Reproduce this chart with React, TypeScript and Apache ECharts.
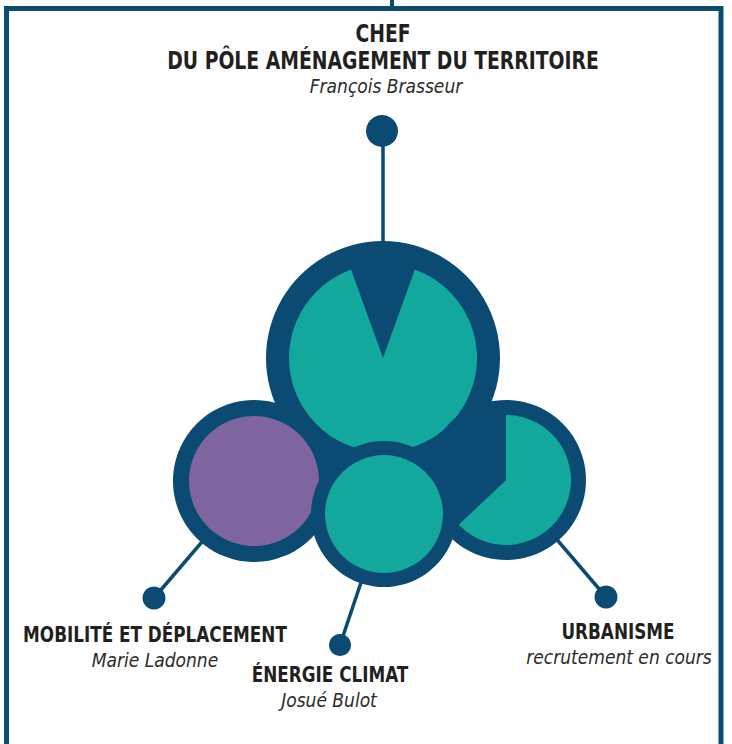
import React, { useEffect, useRef } from "react";
import * as echarts from "echarts";

// ---- data ----
const roleTitles = ["CHEF", "DU PÔLE AMÉNAGEMENT DU TERRITOIRE", "MOBILITÉ ET DÉPLACEMENT", "ÉNERGIE CLIMAT", "URBANISME"];
const personNames = ["François Brasseur", "Marie Ladonne", "Josué Bulot", "recrutement en cours"];
// pie slices: [dark wedge, coloured part]
const chefSlices = [11, 89];
const mobiliteSlices = [0, 100];
const energieSlices = [0, 100];
const urbanismeSlices = [37, 63];

const DARK = "#0a4a73";
const TEAL = "#13a89e";
const PURPLE = "#7f65a0";
const TEXT = "#231f20";
const FONT_B = "'DejaVu Sans Condensed', 'DejaVu Sans', sans-serif";

type Circle = { cx: number; cy: number; outer: number; inner: number; slices: number[]; fill: string; centred: boolean };

const circles: Circle[] = [
  { cx: 383, cy: 358, outer: 117, inner: 94, slices: chefSlices, fill: TEAL, centred: true },
  { cx: 254, cy: 481, outer: 81, inner: 65, slices: mobiliteSlices, fill: PURPLE, centred: false },
  { cx: 506, cy: 480, outer: 80, inner: 65, slices: urbanismeSlices, fill: TEAL, centred: false },
  { cx: 384, cy: 514, outer: 73, inner: 59, slices: energieSlices, fill: TEAL, centred: false },
];

function buildSeries() {
  const series: any[] = [];
  circles.forEach((c, i) => {
    series.push({
      type: "pie",
      silent: true,
      z: 2 + i * 2,
      center: [c.cx, c.cy],
      radius: [0, c.outer],
      label: { show: false },
      labelLine: { show: false },
      emphasis: { disabled: true },
      data: [{ value: 1, itemStyle: { color: DARK } }],
    });
    const total = c.slices[0] + c.slices[1];
    let start = 90;
    let data;
    if (c.centred) {
      start = 90 + (c.slices[0] / total) * 180;
      data = [
        { value: c.slices[0], itemStyle: { color: DARK } },
        { value: c.slices[1], itemStyle: { color: c.fill } },
      ];
    } else {
      data = [
        { value: c.slices[1], itemStyle: { color: c.fill } },
        { value: c.slices[0], itemStyle: { color: DARK } },
      ].filter((d) => d.value > 0);
    }
    series.push({
      type: "pie",
      silent: true,
      z: 3 + i * 2,
      center: [c.cx, c.cy],
      radius: [0, c.inner],
      startAngle: start,
      clockwise: true,
      label: { show: false },
      labelLine: { show: false },
      emphasis: { disabled: true },
      itemStyle: { borderWidth: 0 },
      data,
    });
  });
  return series;
}

function txt(text: string, x: number, y: number, font: string, fill = TEXT, sx = 1) {
  return { type: "text", x, y, z: 10, scaleX: sx, style: { text, font, fill, align: "center", verticalAlign: "middle" } };
}

export default function App() {
  const ref = useRef<HTMLDivElement>(null);
  useEffect(() => {
    if (!ref.current) return;
    const chart = echarts.init(ref.current, undefined, { renderer: "svg" });
    const lineStyle = { stroke: DARK, lineWidth: 3.5 };
    const titleFont = `bold 24px ${FONT_B}`;
    const subFont = `bold 22px ${FONT_B}`;
    const nameFont = `italic 19px ${FONT_B}`;
    const NAME = "#2b2b2b";
    chart.setOption({
      animation: false,
      backgroundColor: "#ffffff",
      series: buildSeries(),
      graphic: {
        elements: [
          { type: "rect", z: 0, shape: { x: 6.5, y: 8.5, width: 714.5, height: 800 }, style: { fill: "none", stroke: DARK, lineWidth: 5 } },
          { type: "line", z: 0, shape: { x1: 392, y1: 0, x2: 392, y2: 8 }, style: { stroke: DARK, lineWidth: 4 } },
          // connectors
          { type: "line", z: 0, shape: { x1: 383, y1: 131, x2: 383, y2: 300 }, style: lineStyle },
          { type: "line", z: 0, shape: { x1: 254, y1: 481, x2: 154, y2: 598 }, style: lineStyle },
          { type: "line", z: 0, shape: { x1: 384, y1: 514, x2: 340, y2: 645 }, style: lineStyle },
          { type: "line", z: 0, shape: { x1: 506, y1: 480, x2: 606, y2: 597 }, style: lineStyle },
          { type: "circle", z: 0, shape: { cx: 382, cy: 131, r: 16 }, style: { fill: DARK } },
          { type: "circle", z: 0, shape: { cx: 154, cy: 598, r: 11.5 }, style: { fill: DARK } },
          { type: "circle", z: 0, shape: { cx: 340, cy: 645, r: 11 }, style: { fill: DARK } },
          { type: "circle", z: 0, shape: { cx: 606, cy: 597, r: 11.5 }, style: { fill: DARK } },
          // texts
          txt(roleTitles[0], 383, 33, titleFont, TEXT, 0.87),
          txt(roleTitles[1], 383, 60, titleFont, TEXT, 0.87),
          txt(personNames[0], 386, 86, nameFont, NAME),
          txt(roleTitles[2], 155, 634, subFont, TEXT, 0.85),
          txt(personNames[1], 155, 660, nameFont, NAME),
          txt(roleTitles[3], 330, 674, subFont, TEXT, 0.85),
          txt(personNames[2], 329, 700, nameFont, NAME),
          txt(roleTitles[4], 618, 631, subFont, TEXT, 0.85),
          txt(personNames[3], 619, 657, nameFont, NAME),
        ],
      },
    });
    return () => chart.dispose();
  }, []);
  return <div ref={ref} style={{ position: "absolute", left: 0, top: 0, width: 732, height: 744 }} />;
}
